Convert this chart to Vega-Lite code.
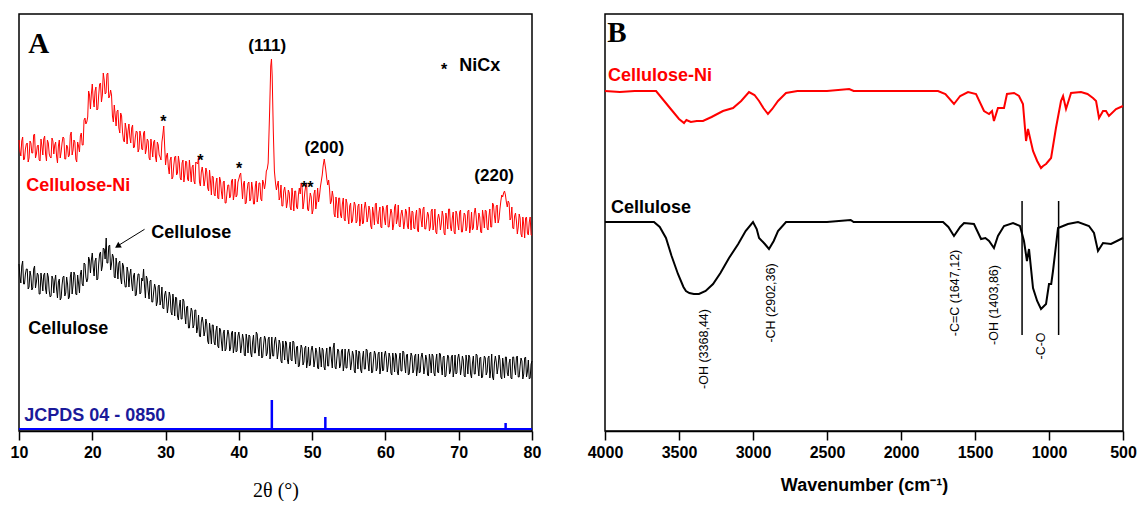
{
"$schema":"https://vega.github.io/schema/vega-lite/v6.json",
"padding":{"left":9,"top":13,"right":5,"bottom":0},
"background":"white",
"config":{
 "view":{"stroke":"black","strokeWidth":1.5},
 "font":"Liberation Sans",
 "axis":{"grid":false,"domainColor":"black","domainWidth":1.5,"tickColor":"black","tickWidth":1.5,"tickSize":9,"labelFont":"Liberation Sans","labelFontSize":16,"labelFontWeight":"bold","labelColor":"black","labelPadding":4,"labelFlush":false,"titleColor":"black"}
},
"datasets":{
"xrdNi":[
{"t":10.00,"i":291},{"t":10.25,"i":275},{"t":10.50,"i":294},{"t":10.75,"i":272},{"t":11.00,"i":287},{"t":11.25,"i":269},{"t":11.50,"i":290},{"t":11.75,"i":278},{"t":12.00,"i":296},{"t":12.25,"i":273},{"t":12.50,"i":285},{"t":12.75,"i":271},{"t":13.00,"i":292},{"t":13.25,"i":276},{"t":13.50,"i":295},{"t":13.75,"i":270},{"t":14.00,"i":288},{"t":14.25,"i":274},{"t":14.50,"i":293},{"t":14.75,"i":277},{"t":15.00,"i":289},{"t":15.25,"i":268},{"t":15.50,"i":291},{"t":15.75,"i":279},{"t":16.00,"i":294},{"t":16.25,"i":272},{"t":16.50,"i":286},{"t":16.75,"i":274},{"t":17.00,"i":296},{"t":17.25,"i":276},{"t":17.50,"i":291},{"t":17.75,"i":272},{"t":18.00,"i":289},{"t":18.25,"i":279},{"t":18.50,"i":298},{"t":18.75,"i":286},{"t":19.00,"i":313},{"t":19.25,"i":309},{"t":19.50,"i":340},{"t":19.75,"i":322},{"t":20.00,"i":347},{"t":20.25,"i":324},{"t":20.50,"i":344},{"t":20.75,"i":322},{"t":21.00,"i":347},{"t":21.25,"i":329},{"t":21.50,"i":358},{"t":21.75,"i":337},{"t":22.00,"i":357},{"t":22.25,"i":333},{"t":22.50,"i":341},{"t":22.75,"i":315},{"t":23.00,"i":326},{"t":23.25,"i":305},{"t":23.50,"i":321},{"t":23.75,"i":298},{"t":24.00,"i":315},{"t":24.25,"i":291},{"t":24.50,"i":308},{"t":24.75,"i":287},{"t":25.00,"i":307},{"t":25.25,"i":288},{"t":25.50,"i":306},{"t":25.75,"i":284},{"t":26.00,"i":300},{"t":26.25,"i":279},{"t":26.50,"i":300},{"t":26.75,"i":282},{"t":27.00,"i":298},{"t":27.25,"i":277},{"t":27.50,"i":292},{"t":27.75,"i":273},{"t":28.00,"i":292},{"t":28.25,"i":274},{"t":28.50,"i":291},{"t":28.75,"i":269},{"t":29.00,"i":286},{"t":29.25,"i":274},{"t":29.50,"i":289},{"t":29.75,"i":305},{"t":30.00,"i":266},{"t":30.25,"i":278},{"t":30.50,"i":257},{"t":30.75,"i":274},{"t":31.00,"i":254},{"t":31.25,"i":274},{"t":31.50,"i":256},{"t":31.75,"i":275},{"t":32.00,"i":253},{"t":32.25,"i":268},{"t":32.50,"i":249},{"t":32.75,"i":270},{"t":33.00,"i":252},{"t":33.25,"i":271},{"t":33.50,"i":249},{"t":33.75,"i":266},{"t":34.00,"i":247},{"t":34.25,"i":268},{"t":34.50,"i":274},{"t":34.75,"i":245},{"t":35.00,"i":264},{"t":35.25,"i":245},{"t":35.50,"i":263},{"t":35.75,"i":243},{"t":36.00,"i":261},{"t":36.25,"i":236},{"t":36.50,"i":254},{"t":36.75,"i":235},{"t":37.00,"i":253},{"t":37.25,"i":232},{"t":37.50,"i":250},{"t":37.75,"i":232},{"t":38.00,"i":250},{"t":38.25,"i":228},{"t":38.50,"i":246},{"t":38.75,"i":233},{"t":39.00,"i":250},{"t":39.25,"i":231},{"t":39.50,"i":252},{"t":39.75,"i":236},{"t":40.00,"i":252},{"t":40.25,"i":258},{"t":40.50,"i":232},{"t":40.75,"i":250},{"t":41.00,"i":228},{"t":41.25,"i":248},{"t":41.50,"i":230},{"t":41.75,"i":249},{"t":42.00,"i":227},{"t":42.25,"i":245},{"t":42.50,"i":229},{"t":42.75,"i":248},{"t":43.00,"i":232},{"t":43.25,"i":251},{"t":43.50,"i":242},{"t":43.75,"i":260},{"t":44.00,"i":268},{"t":44.20,"i":320},{"t":44.35,"i":365},{"t":44.45,"i":372},{"t":44.55,"i":355},{"t":44.70,"i":300},{"t":44.85,"i":260},{"t":45.00,"i":248},{"t":45.25,"i":246},{"t":45.50,"i":231},{"t":45.75,"i":246},{"t":46.00,"i":225},{"t":46.25,"i":244},{"t":46.50,"i":223},{"t":46.75,"i":241},{"t":47.00,"i":224},{"t":47.25,"i":243},{"t":47.50,"i":220},{"t":47.75,"i":240},{"t":48.00,"i":222},{"t":48.25,"i":243},{"t":48.50,"i":248},{"t":48.75,"i":222},{"t":49.00,"i":239},{"t":49.25,"i":247},{"t":49.50,"i":220},{"t":49.75,"i":238},{"t":50.00,"i":217},{"t":50.25,"i":237},{"t":50.50,"i":222},{"t":50.75,"i":243},{"t":51.00,"i":235},{"t":51.25,"i":250},{"t":51.50,"i":265},{"t":51.65,"i":272},{"t":51.85,"i":262},{"t":52.00,"i":252},{"t":52.25,"i":251},{"t":52.50,"i":227},{"t":52.75,"i":240},{"t":53.00,"i":217},{"t":53.25,"i":234},{"t":53.50,"i":213},{"t":53.75,"i":233},{"t":54.00,"i":213},{"t":54.25,"i":233},{"t":54.50,"i":210},{"t":54.75,"i":228},{"t":55.00,"i":207},{"t":55.25,"i":228},{"t":55.50,"i":210},{"t":55.75,"i":229},{"t":56.00,"i":208},{"t":56.25,"i":225},{"t":56.50,"i":205},{"t":56.75,"i":227},{"t":57.00,"i":208},{"t":57.25,"i":229},{"t":57.50,"i":209},{"t":57.75,"i":225},{"t":58.00,"i":205},{"t":58.25,"i":224},{"t":58.50,"i":206},{"t":58.75,"i":228},{"t":59.00,"i":207},{"t":59.25,"i":224},{"t":59.50,"i":203},{"t":59.75,"i":222},{"t":60.00,"i":206},{"t":60.25,"i":226},{"t":60.50,"i":204},{"t":60.75,"i":222},{"t":61.00,"i":201},{"t":61.25,"i":224},{"t":61.50,"i":207},{"t":61.75,"i":226},{"t":62.00,"i":204},{"t":62.25,"i":221},{"t":62.50,"i":202},{"t":62.75,"i":222},{"t":63.00,"i":205},{"t":63.25,"i":224},{"t":63.50,"i":201},{"t":63.75,"i":219},{"t":64.00,"i":202},{"t":64.25,"i":221},{"t":64.50,"i":199},{"t":64.75,"i":222},{"t":65.00,"i":204},{"t":65.25,"i":224},{"t":65.50,"i":202},{"t":65.75,"i":219},{"t":66.00,"i":200},{"t":66.25,"i":220},{"t":66.50,"i":201},{"t":66.75,"i":222},{"t":67.00,"i":197},{"t":67.25,"i":217},{"t":67.50,"i":201},{"t":67.75,"i":220},{"t":68.00,"i":198},{"t":68.25,"i":218},{"t":68.50,"i":202},{"t":68.75,"i":222},{"t":69.00,"i":200},{"t":69.25,"i":219},{"t":69.50,"i":197},{"t":69.75,"i":217},{"t":70.00,"i":201},{"t":70.25,"i":221},{"t":70.50,"i":199},{"t":70.75,"i":218},{"t":71.00,"i":200},{"t":71.25,"i":220},{"t":71.50,"i":198},{"t":71.75,"i":219},{"t":72.00,"i":203},{"t":72.25,"i":223},{"t":72.50,"i":201},{"t":72.75,"i":218},{"t":73.00,"i":199},{"t":73.25,"i":221},{"t":73.50,"i":203},{"t":73.75,"i":220},{"t":74.00,"i":201},{"t":74.25,"i":222},{"t":74.50,"i":204},{"t":74.75,"i":226},{"t":75.00,"i":208},{"t":75.25,"i":226},{"t":75.50,"i":212},{"t":75.75,"i":230},{"t":76.00,"i":234},{"t":76.25,"i":240},{"t":76.50,"i":229},{"t":76.75,"i":230},{"t":77.00,"i":211},{"t":77.25,"i":224},{"t":77.50,"i":202},{"t":77.75,"i":218},{"t":78.00,"i":197},{"t":78.25,"i":217},{"t":78.50,"i":197},{"t":78.75,"i":214},{"t":79.00,"i":193},{"t":79.25,"i":214},{"t":79.50,"i":196},{"t":79.75,"i":214},{"t":80.00,"i":196},
{"t":10.125,"i":280},{"t":10.375,"i":290},{"t":10.625,"i":271},{"t":10.875,"i":282},{"t":11.125,"i":288},{"t":11.375,"i":273},{"t":11.625,"i":288},{"t":11.875,"i":278},{"t":12.125,"i":297},{"t":12.375,"i":277},{"t":12.625,"i":286},{"t":12.875,"i":270},{"t":13.125,"i":285},{"t":13.375,"i":292},{"t":13.625,"i":277},{"t":13.875,"i":291},{"t":14.125,"i":277},{"t":14.375,"i":273},{"t":14.625,"i":290},{"t":14.875,"i":286},{"t":15.125,"i":275},{"t":15.375,"i":285},{"t":15.625,"i":273},{"t":15.875,"i":288},{"t":16.125,"i":293},{"t":16.375,"i":272},{"t":16.625,"i":284},{"t":16.875,"i":276},{"t":17.125,"i":299},{"t":17.375,"i":281},{"t":17.625,"i":289},{"t":17.875,"i":269},{"t":18.125,"i":285},{"t":18.375,"i":295},{"t":18.625,"i":286},{"t":18.875,"i":311},{"t":19.125,"i":307},{"t":19.375,"i":314},{"t":19.625,"i":336},{"t":19.875,"i":337},{"t":20.125,"i":332},{"t":20.375,"i":340},{"t":20.625,"i":321},{"t":20.875,"i":336},{"t":21.125,"i":348},{"t":21.375,"i":336},{"t":21.625,"i":351},{"t":21.875,"i":338},{"t":22.125,"i":358},{"t":22.375,"i":335},{"t":22.625,"i":336},{"t":22.875,"i":309},{"t":23.125,"i":316},{"t":23.375,"i":320},{"t":23.625,"i":303},{"t":23.875,"i":318},{"t":24.125,"i":299},{"t":24.375,"i":289},{"t":24.625,"i":302},{"t":24.875,"i":300},{"t":25.125,"i":294},{"t":25.375,"i":303},{"t":25.625,"i":283},{"t":25.875,"i":294},{"t":26.125,"i":299},{"t":26.375,"i":282},{"t":26.625,"i":295},{"t":26.875,"i":281},{"t":27.125,"i":300},{"t":27.375,"i":282},{"t":27.625,"i":290},{"t":27.875,"i":271},{"t":28.125,"i":284},{"t":28.375,"i":289},{"t":28.625,"i":274},{"t":28.875,"i":289},{"t":29.125,"i":276},{"t":29.375,"i":271},{"t":29.625,"i":296},{"t":29.875,"i":285},{"t":30.125,"i":275},{"t":30.375,"i":264},{"t":30.625,"i":271},{"t":30.875,"i":252},{"t":31.125,"i":266},{"t":31.375,"i":275},{"t":31.625,"i":258},{"t":31.875,"i":268},{"t":32.125,"i":251},{"t":32.375,"i":271},{"t":32.625,"i":257},{"t":32.875,"i":269},{"t":33.125,"i":250},{"t":33.375,"i":261},{"t":33.625,"i":264},{"t":33.875,"i":250},{"t":34.125,"i":269},{"t":34.375,"i":267},{"t":34.625,"i":249},{"t":34.875,"i":259},{"t":35.125,"i":257},{"t":35.375,"i":251},{"t":35.625,"i":259},{"t":35.875,"i":240},{"t":36.125,"i":250},{"t":36.375,"i":255},{"t":36.625,"i":237},{"t":36.875,"i":248},{"t":37.125,"i":233},{"t":37.375,"i":254},{"t":37.625,"i":239},{"t":37.875,"i":249},{"t":38.125,"i":228},{"t":38.375,"i":238},{"t":38.625,"i":246},{"t":38.875,"i":235},{"t":39.125,"i":252},{"t":39.375,"i":237},{"t":39.625,"i":234},{"t":39.875,"i":249},{"t":40.125,"i":256},{"t":40.375,"i":246},{"t":40.625,"i":247},{"t":40.875,"i":227},{"t":41.125,"i":240},{"t":41.375,"i":249},{"t":41.625,"i":232},{"t":41.875,"i":242},{"t":42.125,"i":227},{"t":42.375,"i":250},{"t":42.625,"i":236},{"t":42.875,"i":248},{"t":43.125,"i":230},{"t":43.375,"i":248},{"t":43.625,"i":248},{"t":43.875,"i":262},{"t":45.125,"i":241},{"t":45.375,"i":250},{"t":45.625,"i":234},{"t":45.875,"i":225},{"t":46.125,"i":240},{"t":46.375,"i":237},{"t":46.625,"i":229},{"t":46.875,"i":238},{"t":47.125,"i":221},{"t":47.375,"i":233},{"t":47.625,"i":240},{"t":47.875,"i":224},{"t":48.125,"i":236},{"t":48.375,"i":237},{"t":48.625,"i":244},{"t":48.875,"i":229},{"t":49.125,"i":245},{"t":49.375,"i":222},{"t":49.625,"i":230},{"t":49.875,"i":234},{"t":50.125,"i":221},{"t":50.375,"i":241},{"t":50.625,"i":229},{"t":50.875,"i":229},{"t":51.125,"i":244},{"t":51.375,"i":256},{"t":52.125,"i":246},{"t":52.375,"i":242},{"t":52.625,"i":230},{"t":52.875,"i":234},{"t":53.125,"i":214},{"t":53.375,"i":226},{"t":53.625,"i":233},{"t":53.875,"i":216},{"t":54.125,"i":227},{"t":54.375,"i":212},{"t":54.625,"i":232},{"t":54.875,"i":215},{"t":55.125,"i":225},{"t":55.375,"i":208},{"t":55.625,"i":220},{"t":55.875,"i":226},{"t":56.125,"i":210},{"t":56.375,"i":227},{"t":56.625,"i":212},{"t":56.875,"i":207},{"t":57.125,"i":223},{"t":57.375,"i":222},{"t":57.625,"i":214},{"t":57.875,"i":221},{"t":58.125,"i":202},{"t":58.375,"i":217},{"t":58.625,"i":227},{"t":58.875,"i":210},{"t":59.125,"i":219},{"t":59.375,"i":204},{"t":59.625,"i":225},{"t":59.875,"i":212},{"t":60.125,"i":224},{"t":60.375,"i":204},{"t":60.625,"i":214},{"t":60.875,"i":218},{"t":61.125,"i":206},{"t":61.375,"i":227},{"t":61.625,"i":212},{"t":61.875,"i":205},{"t":62.125,"i":217},{"t":62.375,"i":214},{"t":62.625,"i":209},{"t":62.875,"i":219},{"t":63.125,"i":202},{"t":63.375,"i":214},{"t":63.625,"i":220},{"t":63.875,"i":203},{"t":64.125,"i":215},{"t":64.375,"i":201},{"t":64.625,"i":223},{"t":64.875,"i":211},{"t":65.125,"i":222},{"t":65.375,"i":202},{"t":65.625,"i":211},{"t":65.875,"i":216},{"t":66.125,"i":204},{"t":66.375,"i":222},{"t":66.625,"i":207},{"t":66.875,"i":199},{"t":67.125,"i":212},{"t":67.375,"i":212},{"t":67.625,"i":207},{"t":67.875,"i":215},{"t":68.125,"i":196},{"t":68.375,"i":212},{"t":68.625,"i":222},{"t":68.875,"i":204},{"t":69.125,"i":213},{"t":69.375,"i":199},{"t":69.625,"i":220},{"t":69.875,"i":207},{"t":70.125,"i":219},{"t":70.375,"i":199},{"t":70.625,"i":209},{"t":70.875,"i":216},{"t":71.125,"i":204},{"t":71.375,"i":221},{"t":71.625,"i":204},{"t":71.875,"i":201},{"t":72.125,"i":218},{"t":72.375,"i":215},{"t":72.625,"i":206},{"t":72.875,"i":214},{"t":73.125,"i":198},{"t":73.375,"i":214},{"t":73.625,"i":221},{"t":73.875,"i":203},{"t":74.125,"i":215},{"t":74.375,"i":204},{"t":74.625,"i":228},{"t":74.875,"i":215},{"t":75.125,"i":225},{"t":75.375,"i":208},{"t":75.625,"i":222},{"t":75.875,"i":236},{"t":76.125,"i":238},{"t":76.375,"i":236},{"t":76.625,"i":224},{"t":76.875,"i":228},{"t":77.125,"i":213},{"t":77.375,"i":203},{"t":77.625,"i":215},{"t":77.875,"i":210},{"t":78.125,"i":204},{"t":78.375,"i":213},{"t":78.625,"i":194},{"t":78.875,"i":206},{"t":79.125,"i":213},{"t":79.375,"i":198},{"t":79.625,"i":209},{"t":79.875,"i":196}
],
"xrdCel":[
{"t":10.00,"i":167},{"t":10.25,"i":148},{"t":10.50,"i":170},{"t":10.75,"i":147},{"t":11.00,"i":162},{"t":11.25,"i":142},{"t":11.50,"i":160},{"t":11.75,"i":141},{"t":12.00,"i":162},{"t":12.25,"i":143},{"t":12.50,"i":158},{"t":12.75,"i":137},{"t":13.00,"i":158},{"t":13.25,"i":140},{"t":13.50,"i":158},{"t":13.75,"i":137},{"t":14.00,"i":154},{"t":14.25,"i":134},{"t":14.50,"i":155},{"t":14.75,"i":138},{"t":15.00,"i":156},{"t":15.25,"i":133},{"t":15.50,"i":152},{"t":15.75,"i":133},{"t":16.00,"i":154},{"t":16.25,"i":135},{"t":16.50,"i":154},{"t":16.75,"i":132},{"t":17.00,"i":154},{"t":17.25,"i":137},{"t":17.50,"i":159},{"t":17.75,"i":137},{"t":18.00,"i":156},{"t":18.25,"i":138},{"t":18.50,"i":161},{"t":18.75,"i":145},{"t":19.00,"i":167},{"t":19.25,"i":149},{"t":19.50,"i":174},{"t":19.75,"i":158},{"t":20.00,"i":178},{"t":20.25,"i":155},{"t":20.50,"i":173},{"t":20.75,"i":152},{"t":21.00,"i":177},{"t":21.25,"i":160},{"t":21.50,"i":183},{"t":21.75,"i":172},{"t":21.90,"i":193},{"t":22.00,"i":168},{"t":22.25,"i":185},{"t":22.50,"i":161},{"t":22.75,"i":177},{"t":23.00,"i":154},{"t":23.25,"i":173},{"t":23.50,"i":152},{"t":23.75,"i":170},{"t":24.00,"i":147},{"t":24.25,"i":165},{"t":24.50,"i":144},{"t":24.75,"i":164},{"t":25.00,"i":144},{"t":25.25,"i":162},{"t":25.50,"i":140},{"t":25.75,"i":158},{"t":26.00,"i":136},{"t":26.25,"i":157},{"t":26.50,"i":137},{"t":26.75,"i":153},{"t":27.00,"i":162},{"t":27.25,"i":133},{"t":27.50,"i":152},{"t":27.75,"i":132},{"t":28.00,"i":151},{"t":28.25,"i":129},{"t":28.50,"i":147},{"t":28.75,"i":125},{"t":29.00,"i":145},{"t":29.25,"i":126},{"t":29.50,"i":144},{"t":29.75,"i":122},{"t":30.00,"i":140},{"t":30.25,"i":118},{"t":30.50,"i":139},{"t":30.75,"i":119},{"t":31.00,"i":137},{"t":31.25,"i":115},{"t":31.50,"i":133},{"t":31.75,"i":111},{"t":32.00,"i":131},{"t":32.25,"i":112},{"t":32.50,"i":130},{"t":32.75,"i":107},{"t":33.00,"i":125},{"t":33.25,"i":103},{"t":33.50,"i":123},{"t":33.75,"i":103},{"t":34.00,"i":121},{"t":34.25,"i":98},{"t":34.50,"i":116},{"t":34.75,"i":94},{"t":35.00,"i":114},{"t":35.25,"i":95},{"t":35.50,"i":112},{"t":35.75,"i":90},{"t":36.00,"i":108},{"t":36.25,"i":87},{"t":36.50,"i":106},{"t":36.75,"i":86},{"t":37.00,"i":105},{"t":37.25,"i":83},{"t":37.50,"i":101},{"t":37.75,"i":80},{"t":38.00,"i":101},{"t":38.25,"i":82},{"t":38.50,"i":101},{"t":38.75,"i":80},{"t":39.00,"i":98},{"t":39.25,"i":78},{"t":39.50,"i":99},{"t":39.75,"i":80},{"t":40.00,"i":99},{"t":40.25,"i":78},{"t":40.50,"i":97},{"t":40.75,"i":76},{"t":41.00,"i":97},{"t":41.25,"i":78},{"t":41.50,"i":95},{"t":41.75,"i":74},{"t":42.00,"i":96},{"t":42.25,"i":78},{"t":42.50,"i":97},{"t":42.75,"i":75},{"t":43.00,"i":94},{"t":43.25,"i":74},{"t":43.50,"i":95},{"t":43.75,"i":75},{"t":44.00,"i":92},{"t":44.25,"i":72},{"t":44.50,"i":94},{"t":44.75,"i":75},{"t":45.00,"i":94},{"t":45.25,"i":72},{"t":45.50,"i":91},{"t":45.75,"i":70},{"t":46.00,"i":90},{"t":46.25,"i":71},{"t":46.50,"i":88},{"t":46.75,"i":67},{"t":47.00,"i":89},{"t":47.25,"i":70},{"t":47.50,"i":89},{"t":47.75,"i":67},{"t":48.00,"i":85},{"t":48.25,"i":65},{"t":48.50,"i":86},{"t":48.75,"i":66},{"t":49.00,"i":83},{"t":49.25,"i":63},{"t":49.50,"i":84},{"t":49.75,"i":66},{"t":50.00,"i":85},{"t":50.25,"i":64},{"t":50.50,"i":83},{"t":50.75,"i":63},{"t":51.00,"i":84},{"t":51.25,"i":64},{"t":51.50,"i":81},{"t":51.75,"i":61},{"t":52.00,"i":83},{"t":52.25,"i":65},{"t":52.50,"i":84},{"t":52.75,"i":63},{"t":53.00,"i":88},{"t":53.25,"i":62},{"t":53.50,"i":82},{"t":53.75,"i":63},{"t":54.00,"i":80},{"t":54.25,"i":60},{"t":54.50,"i":82},{"t":54.75,"i":63},{"t":55.00,"i":82},{"t":55.25,"i":61},{"t":55.50,"i":80},{"t":55.75,"i":60},{"t":56.00,"i":81},{"t":56.25,"i":62},{"t":56.50,"i":78},{"t":56.75,"i":58},{"t":57.00,"i":80},{"t":57.25,"i":62},{"t":57.50,"i":81},{"t":57.75,"i":60},{"t":58.00,"i":79},{"t":58.25,"i":59},{"t":58.50,"i":80},{"t":58.75,"i":60},{"t":59.00,"i":77},{"t":59.25,"i":57},{"t":59.50,"i":79},{"t":59.75,"i":61},{"t":60.00,"i":80},{"t":60.25,"i":59},{"t":60.50,"i":78},{"t":60.75,"i":58},{"t":61.00,"i":78},{"t":61.25,"i":59},{"t":61.50,"i":76},{"t":61.75,"i":56},{"t":62.00,"i":78},{"t":62.25,"i":60},{"t":62.50,"i":79},{"t":62.75,"i":58},{"t":63.00,"i":77},{"t":63.25,"i":57},{"t":63.50,"i":78},{"t":63.75,"i":58},{"t":64.00,"i":75},{"t":64.25,"i":55},{"t":64.50,"i":77},{"t":64.75,"i":59},{"t":65.00,"i":78},{"t":65.25,"i":57},{"t":65.50,"i":76},{"t":65.75,"i":56},{"t":66.00,"i":77},{"t":66.25,"i":58},{"t":66.50,"i":75},{"t":66.75,"i":55},{"t":67.00,"i":77},{"t":67.25,"i":58},{"t":67.50,"i":77},{"t":67.75,"i":56},{"t":68.00,"i":75},{"t":68.25,"i":55},{"t":68.50,"i":76},{"t":68.75,"i":57},{"t":69.00,"i":74},{"t":69.25,"i":54},{"t":69.50,"i":76},{"t":69.75,"i":58},{"t":70.00,"i":77},{"t":70.25,"i":56},{"t":70.50,"i":75},{"t":70.75,"i":55},{"t":71.00,"i":76},{"t":71.25,"i":57},{"t":71.50,"i":74},{"t":71.75,"i":53},{"t":72.00,"i":75},{"t":72.25,"i":57},{"t":72.50,"i":76},{"t":72.75,"i":55},{"t":73.00,"i":74},{"t":73.25,"i":54},{"t":73.50,"i":75},{"t":73.75,"i":56},{"t":74.00,"i":73},{"t":74.25,"i":53},{"t":74.50,"i":77},{"t":74.75,"i":51},{"t":75.00,"i":75},{"t":75.25,"i":57},{"t":75.50,"i":76},{"t":75.75,"i":54},{"t":76.00,"i":73},{"t":76.25,"i":53},{"t":76.50,"i":74},{"t":76.75,"i":55},{"t":77.00,"i":72},{"t":77.25,"i":52},{"t":77.50,"i":74},{"t":77.75,"i":56},{"t":78.00,"i":75},{"t":78.25,"i":54},{"t":78.50,"i":73},{"t":78.75,"i":52},{"t":79.00,"i":73},{"t":79.25,"i":54},{"t":79.50,"i":71},{"t":79.75,"i":53},{"t":80.00,"i":70},
{"t":10.125,"i":155},{"t":10.375,"i":165},{"t":10.625,"i":147},{"t":10.875,"i":157},{"t":11.125,"i":162},{"t":11.375,"i":144},{"t":11.625,"i":155},{"t":11.875,"i":143},{"t":12.125,"i":165},{"t":12.375,"i":149},{"t":12.625,"i":156},{"t":12.875,"i":137},{"t":13.125,"i":150},{"t":13.375,"i":156},{"t":13.625,"i":142},{"t":13.875,"i":158},{"t":14.125,"i":140},{"t":14.375,"i":135},{"t":14.625,"i":152},{"t":14.875,"i":150},{"t":15.125,"i":142},{"t":15.375,"i":149},{"t":15.625,"i":131},{"t":15.875,"i":146},{"t":16.125,"i":155},{"t":16.375,"i":138},{"t":16.625,"i":147},{"t":16.875,"i":134},{"t":17.125,"i":159},{"t":17.375,"i":146},{"t":17.625,"i":156},{"t":17.875,"i":136},{"t":18.125,"i":148},{"t":18.375,"i":157},{"t":18.625,"i":147},{"t":18.875,"i":168},{"t":19.125,"i":154},{"t":19.375,"i":152},{"t":19.625,"i":171},{"t":19.875,"i":171},{"t":20.125,"i":164},{"t":20.375,"i":170},{"t":20.625,"i":151},{"t":20.875,"i":167},{"t":21.125,"i":179},{"t":21.375,"i":165},{"t":21.625,"i":182},{"t":22.125,"i":168},{"t":22.375,"i":186},{"t":22.625,"i":167},{"t":22.875,"i":174},{"t":23.125,"i":153},{"t":23.375,"i":164},{"t":23.625,"i":168},{"t":23.875,"i":153},{"t":24.125,"i":168},{"t":24.375,"i":151},{"t":24.625,"i":144},{"t":24.875,"i":159},{"t":25.125,"i":156},{"t":25.375,"i":148},{"t":25.625,"i":155},{"t":25.875,"i":135},{"t":26.125,"i":149},{"t":26.375,"i":157},{"t":26.625,"i":138},{"t":26.875,"i":150},{"t":27.125,"i":145},{"t":27.375,"i":155},{"t":27.625,"i":140},{"t":27.875,"i":150},{"t":28.125,"i":129},{"t":28.375,"i":139},{"t":28.625,"i":143},{"t":28.875,"i":129},{"t":29.125,"i":146},{"t":29.375,"i":131},{"t":29.625,"i":123},{"t":29.875,"i":136},{"t":30.125,"i":132},{"t":30.375,"i":126},{"t":30.625,"i":135},{"t":30.875,"i":116},{"t":31.125,"i":128},{"t":31.375,"i":134},{"t":31.625,"i":115},{"t":31.875,"i":125},{"t":32.125,"i":112},{"t":32.375,"i":132},{"t":32.625,"i":117},{"t":32.875,"i":124},{"t":33.125,"i":103},{"t":33.375,"i":114},{"t":33.625,"i":120},{"t":33.875,"i":106},{"t":34.125,"i":121},{"t":34.375,"i":103},{"t":34.625,"i":95},{"t":34.875,"i":109},{"t":35.125,"i":108},{"t":35.375,"i":100},{"t":35.625,"i":107},{"t":35.875,"i":87},{"t":36.125,"i":100},{"t":36.375,"i":106},{"t":36.625,"i":89},{"t":36.875,"i":100},{"t":37.125,"i":85},{"t":37.375,"i":103},{"t":37.625,"i":89},{"t":37.875,"i":98},{"t":38.125,"i":80},{"t":38.375,"i":93},{"t":38.625,"i":97},{"t":38.875,"i":83},{"t":39.125,"i":100},{"t":39.375,"i":85},{"t":39.625,"i":79},{"t":39.875,"i":95},{"t":40.125,"i":92},{"t":40.375,"i":85},{"t":40.625,"i":92},{"t":40.875,"i":75},{"t":41.125,"i":90},{"t":41.375,"i":96},{"t":41.625,"i":78},{"t":41.875,"i":89},{"t":42.125,"i":78},{"t":42.375,"i":99},{"t":42.625,"i":84},{"t":42.875,"i":92},{"t":43.125,"i":73},{"t":43.375,"i":86},{"t":43.625,"i":92},{"t":43.875,"i":78},{"t":44.125,"i":94},{"t":44.375,"i":79},{"t":44.625,"i":75},{"t":44.875,"i":90},{"t":45.125,"i":86},{"t":45.375,"i":79},{"t":45.625,"i":87},{"t":45.875,"i":68},{"t":46.125,"i":83},{"t":46.375,"i":90},{"t":46.625,"i":71},{"t":46.875,"i":82},{"t":47.125,"i":71},{"t":47.375,"i":90},{"t":47.625,"i":76},{"t":47.875,"i":84},{"t":48.125,"i":64},{"t":48.375,"i":77},{"t":48.625,"i":83},{"t":48.875,"i":69},{"t":49.125,"i":85},{"t":49.375,"i":70},{"t":49.625,"i":65},{"t":49.875,"i":81},{"t":50.125,"i":78},{"t":50.375,"i":71},{"t":50.625,"i":79},{"t":50.875,"i":62},{"t":51.125,"i":76},{"t":51.375,"i":83},{"t":51.625,"i":64},{"t":51.875,"i":76},{"t":52.125,"i":65},{"t":52.375,"i":84},{"t":52.625,"i":72},{"t":52.875,"i":83},{"t":53.125,"i":64},{"t":53.375,"i":73},{"t":53.625,"i":80},{"t":53.875,"i":66},{"t":54.125,"i":82},{"t":54.375,"i":67},{"t":54.625,"i":63},{"t":54.875,"i":78},{"t":55.125,"i":75},{"t":55.375,"i":68},{"t":55.625,"i":76},{"t":55.875,"i":58},{"t":56.125,"i":74},{"t":56.375,"i":80},{"t":56.625,"i":61},{"t":56.875,"i":73},{"t":57.125,"i":62},{"t":57.375,"i":82},{"t":57.625,"i":69},{"t":57.875,"i":78},{"t":58.125,"i":58},{"t":58.375,"i":71},{"t":58.625,"i":77},{"t":58.875,"i":63},{"t":59.125,"i":79},{"t":59.375,"i":64},{"t":59.625,"i":60},{"t":59.875,"i":76},{"t":60.125,"i":73},{"t":60.375,"i":66},{"t":60.625,"i":74},{"t":60.875,"i":56},{"t":61.125,"i":71},{"t":61.375,"i":78},{"t":61.625,"i":59},{"t":61.875,"i":71},{"t":62.125,"i":60},{"t":62.375,"i":80},{"t":62.625,"i":67},{"t":62.875,"i":76},{"t":63.125,"i":56},{"t":63.375,"i":69},{"t":63.625,"i":75},{"t":63.875,"i":61},{"t":64.125,"i":77},{"t":64.375,"i":62},{"t":64.625,"i":58},{"t":64.875,"i":74},{"t":65.125,"i":71},{"t":65.375,"i":64},{"t":65.625,"i":72},{"t":65.875,"i":55},{"t":66.125,"i":70},{"t":66.375,"i":77},{"t":66.625,"i":58},{"t":66.875,"i":70},{"t":67.125,"i":59},{"t":67.375,"i":78},{"t":67.625,"i":65},{"t":67.875,"i":74},{"t":68.125,"i":54},{"t":68.375,"i":67},{"t":68.625,"i":74},{"t":68.875,"i":60},{"t":69.125,"i":76},{"t":69.375,"i":61},{"t":69.625,"i":57},{"t":69.875,"i":73},{"t":70.125,"i":70},{"t":70.375,"i":63},{"t":70.625,"i":71},{"t":70.875,"i":54},{"t":71.125,"i":69},{"t":71.375,"i":76},{"t":71.625,"i":57},{"t":71.875,"i":68},{"t":72.125,"i":57},{"t":72.375,"i":77},{"t":72.625,"i":64},{"t":72.875,"i":73},{"t":73.125,"i":53},{"t":73.375,"i":66},{"t":73.625,"i":73},{"t":73.875,"i":59},{"t":74.125,"i":75},{"t":74.375,"i":61},{"t":74.625,"i":54},{"t":74.875,"i":68},{"t":75.125,"i":69},{"t":75.375,"i":64},{"t":75.625,"i":71},{"t":75.875,"i":52},{"t":76.125,"i":65},{"t":76.375,"i":74},{"t":76.625,"i":58},{"t":76.875,"i":68},{"t":77.125,"i":53},{"t":77.375,"i":74},{"t":77.625,"i":63},{"t":77.875,"i":74},{"t":78.125,"i":54},{"t":78.375,"i":65},{"t":78.625,"i":70},{"t":78.875,"i":57},{"t":79.125,"i":74},{"t":79.375,"i":59},{"t":79.625,"i":52},{"t":79.875,"i":67}
],
"ftirNi":[
{"t":4000,"i":340},{"t":3900,"i":339},{"t":3800,"i":340},{"t":3700,"i":340},{"t":3655,"i":340},{"t":3600,"i":330},{"t":3550,"i":321},{"t":3500,"i":312},{"t":3466,"i":308},{"t":3450,"i":311},{"t":3420,"i":309},{"t":3380,"i":310},{"t":3338,"i":310},{"t":3280,"i":314},{"t":3203,"i":320},{"t":3135,"i":323},{"t":3080,"i":330},{"t":3027,"i":339},{"t":2990,"i":336},{"t":2959,"i":330},{"t":2930,"i":323},{"t":2899,"i":317},{"t":2870,"i":322},{"t":2831,"i":330},{"t":2777,"i":338},{"t":2700,"i":340},{"t":2500,"i":340},{"t":2350,"i":342},{"t":2320,"i":340},{"t":2000,"i":340},{"t":1750,"i":340},{"t":1700,"i":337},{"t":1642,"i":327},{"t":1600,"i":335},{"t":1547,"i":339},{"t":1493,"i":337},{"t":1439,"i":320},{"t":1405,"i":317},{"t":1385,"i":320},{"t":1372,"i":310},{"t":1345,"i":323},{"t":1304,"i":323},{"t":1284,"i":337},{"t":1236,"i":338},{"t":1203,"i":335},{"t":1176,"i":327},{"t":1155,"i":290},{"t":1142,"i":302},{"t":1108,"i":280},{"t":1080,"i":270},{"t":1054,"i":263},{"t":1040,"i":265},{"t":1020,"i":267},{"t":986,"i":273},{"t":953,"i":303},{"t":919,"i":330},{"t":905,"i":335},{"t":885,"i":322},{"t":851,"i":338},{"t":784,"i":339},{"t":740,"i":337},{"t":703,"i":333},{"t":682,"i":330},{"t":662,"i":313},{"t":635,"i":320},{"t":615,"i":320},{"t":595,"i":315},{"t":547,"i":322},{"t":500,"i":325}
],
"ftirCel":[
{"t":4000,"i":209},{"t":3800,"i":209},{"t":3669,"i":209},{"t":3630,"i":204},{"t":3588,"i":193},{"t":3550,"i":175},{"t":3507,"i":157},{"t":3470,"i":144},{"t":3453,"i":140},{"t":3430,"i":138},{"t":3400,"i":137},{"t":3365,"i":137},{"t":3320,"i":140},{"t":3270,"i":147},{"t":3220,"i":158},{"t":3162,"i":173},{"t":3100,"i":187},{"t":3050,"i":200},{"t":3000,"i":209},{"t":2975,"i":202},{"t":2959,"i":193},{"t":2920,"i":187},{"t":2892,"i":182},{"t":2860,"i":190},{"t":2831,"i":200},{"t":2777,"i":209},{"t":2500,"i":209},{"t":2340,"i":211},{"t":2320,"i":209},{"t":2000,"i":209},{"t":1716,"i":209},{"t":1680,"i":204},{"t":1642,"i":195},{"t":1600,"i":204},{"t":1574,"i":208},{"t":1507,"i":207},{"t":1459,"i":192},{"t":1430,"i":193},{"t":1405,"i":190},{"t":1372,"i":183},{"t":1345,"i":195},{"t":1304,"i":205},{"t":1243,"i":208},{"t":1196,"i":205},{"t":1169,"i":190},{"t":1149,"i":170},{"t":1135,"i":182},{"t":1108,"i":143},{"t":1080,"i":130},{"t":1054,"i":122},{"t":1020,"i":127},{"t":1000,"i":147},{"t":985,"i":147},{"t":973,"i":160},{"t":939,"i":203},{"t":905,"i":205},{"t":872,"i":207},{"t":804,"i":209},{"t":730,"i":205},{"t":696,"i":198},{"t":669,"i":180},{"t":635,"i":188},{"t":581,"i":187},{"t":500,"i":193}
]
},
"spacing":73,
"bounds":"flush",
"resolve":{"scale":{"x":"independent","y":"independent"}},
"hconcat":[
{
 "width":513,"height":417,
 "encoding":{
  "x":{"field":"t","type":"quantitative","scale":{"domain":[10,80],"nice":false,"zero":false},
   "axis":{"values":[10,20,30,40,50,60,70,80],"format":"d","title":"2θ (°)","titleFont":"Liberation Serif","titleFontWeight":"normal","titleFontSize":20,"titlePadding":20}},
  "y":{"field":"i","type":"quantitative","scale":{"domain":[0,417],"nice":false,"zero":false},"axis":null}
 },
 "layer":[
  {"data":{"name":"xrdNi"},"mark":{"type":"line","color":"#ff0000","strokeWidth":1}},
  {"data":{"name":"xrdCel"},"mark":{"type":"line","color":"#000000","strokeWidth":1}},
  {"data":{"values":[{"t":10,"t2":80,"i":2}]},"mark":{"type":"rule","color":"#0000ff","strokeWidth":2},"encoding":{"x2":{"field":"t2"}}},
  {"data":{"values":[{"t":44.5,"i":2,"i2":31},{"t":51.8,"i":2,"i2":14},{"t":76.4,"i":2,"i2":8}]},"mark":{"type":"rule","color":"#0000ff","strokeWidth":2.5},"encoding":{"y2":{"field":"i2"}}},
  {"data":{"values":[{"t":27.13,"i":201.7,"t2":23.4,"i2":184.8}]},"mark":{"type":"rule","color":"#000000","strokeWidth":1},"encoding":{"x2":{"field":"t2"},"y2":{"field":"i2"}}},
  {"data":{"values":[{"t":23.45,"i":184.8}]},"mark":{"type":"point","shape":"triangle-up","angle":238,"size":45,"filled":true,"color":"#000000","opacity":1}},
  {"data":{"values":[{"t":11.27,"i":387,"label":"A"}]},"mark":{"type":"text","font":"Liberation Serif","fontWeight":"bold","fontSize":29,"align":"left","baseline":"middle","color":"#000000"},"encoding":{"text":{"field":"label"}}},
  {"data":{"values":[{"t":43.87,"i":385,"label":"(111)"},{"t":51.65,"i":283,"label":"(200)"},{"t":74.84,"i":255,"label":"(220)"}]},"mark":{"type":"text","fontWeight":"bold","fontSize":17,"align":"center","baseline":"middle","color":"#000000"},"encoding":{"text":{"field":"label"}}},
  {"data":{"values":[{"t":70.07,"i":365,"label":"NiCx"},{"t":28.06,"i":198,"label":"Cellulose"},{"t":11.27,"i":102,"label":"Cellulose"}]},"mark":{"type":"text","fontWeight":"bold","fontSize":18,"align":"left","baseline":"middle","color":"#000000"},"encoding":{"text":{"field":"label"}}},
  {"data":{"values":[{"t":68.02,"i":361,"label":"*"},{"t":29.69,"i":309,"label":"*"},{"t":34.73,"i":270,"label":"*"},{"t":40.05,"i":262,"label":"*"},{"t":49.33,"i":243,"label":"**"}]},"mark":{"type":"text","fontWeight":"bold","fontSize":16,"align":"center","baseline":"middle","color":"#000000"},"encoding":{"text":{"field":"label"}}},
  {"data":{"values":[{"t":11.0,"i":245,"label":"Cellulose-Ni"}]},"mark":{"type":"text","fontWeight":"bold","fontSize":18,"align":"left","baseline":"middle","color":"#ff0000"},"encoding":{"text":{"field":"label"}}},
  {"data":{"values":[{"t":10.72,"i":15,"label":"JCPDS 04 - 0850"}]},"mark":{"type":"text","fontWeight":"bold","fontSize":18,"align":"left","baseline":"middle","color":"#1a1a9a"},"encoding":{"text":{"field":"label"}}}
 ]
},
{
 "width":518,"height":417,
 "encoding":{
  "x":{"field":"t","type":"quantitative","scale":{"domain":[500,4000],"reverse":true,"nice":false,"zero":false},
   "axis":{"values":[4000,3500,3000,2500,2000,1500,1000,500],"format":"d","title":"Wavenumber (cm⁻¹)","titleFont":"Liberation Sans","titleFontWeight":"bold","titleFontSize":18,"titlePadding":16}},
  "y":{"field":"i","type":"quantitative","scale":{"domain":[0,417],"nice":false,"zero":false},"axis":null}
 },
 "layer":[
  {"data":{"name":"ftirNi"},"mark":{"type":"line","color":"#ff0000","strokeWidth":2}},
  {"data":{"name":"ftirCel"},"mark":{"type":"line","color":"#000000","strokeWidth":2}},
  {"data":{"values":[{"t":1182,"i":96,"i2":230},{"t":935,"i":96,"i2":230}]},"mark":{"type":"rule","color":"#000000","strokeWidth":1.5},"encoding":{"y2":{"field":"i2"}}},
  {"data":{"values":[{"t":3985,"i":398,"label":"B"}]},"mark":{"type":"text","font":"Liberation Serif","fontWeight":"bold","fontSize":29,"align":"left","baseline":"middle","color":"#000000"},"encoding":{"text":{"field":"label"}}},
  {"data":{"values":[{"t":3980,"i":355,"label":"Cellulose-Ni"}]},"mark":{"type":"text","fontWeight":"bold","fontSize":18,"align":"left","baseline":"middle","color":"#ff0000"},"encoding":{"text":{"field":"label"}}},
  {"data":{"values":[{"t":3959,"i":223,"label":"Cellulose"}]},"mark":{"type":"text","fontWeight":"bold","fontSize":18,"align":"left","baseline":"middle","color":"#000000"},"encoding":{"text":{"field":"label"}}},
  {"data":{"values":[{"t":3331,"i":82,"label":"-OH (3368,44)"},{"t":2878,"i":128,"label":"-CH (2902,36)"},{"t":1635,"i":138,"label":"-C=C (1647,12)"},{"t":1372,"i":126,"label":"-OH (1403,86)"},{"t":1054,"i":85,"label":"-C-O"}]},"mark":{"type":"text","fontSize":12.5,"angle":270,"align":"center","baseline":"middle","color":"#000000"},"encoding":{"text":{"field":"label"}}}
 ]
}
]
}
